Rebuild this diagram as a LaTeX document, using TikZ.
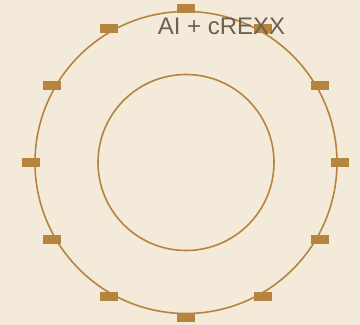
\documentclass[tikz,border=0pt]{standalone}
\usepackage{fontspec}
\usetikzlibrary{calc}
\setmainfont{Liberation Sans}
\definecolor{bg}{HTML}{F3EAD9}
\definecolor{ring}{HTML}{B5843F}
\definecolor{txt}{HTML}{6E5F50}
\begin{document}
\begin{tikzpicture}[x=1pt,y=-1pt,
  ringline/.style={draw=ring,line width=1.6pt,circle,inner sep=0pt},
  tick/.style={fill=ring,draw=none,minimum width=18pt,minimum height=9pt,inner sep=0pt,rectangle},
  title/.style={text=txt,font=\fontsize{24}{28}\selectfont,inner sep=0pt}]
\fill[bg] (0,0) rectangle (360,325);
\useasboundingbox (0,0) rectangle (360,325);
\coordinate (c) at (186,162.5);
\node[ringline,minimum size=302pt] (outer) at (c) {};
\node[ringline,minimum size=176pt] (inner) at (c) {};
\foreach \a in {0,30,...,330}{
  \node[tick] (t\a) at ($(c)+(\a:154.5)$) {};
}
\node[title,anchor=base] (lbl) at (221.5,34) {AI + cREXX};
\end{tikzpicture}
\end{document}
